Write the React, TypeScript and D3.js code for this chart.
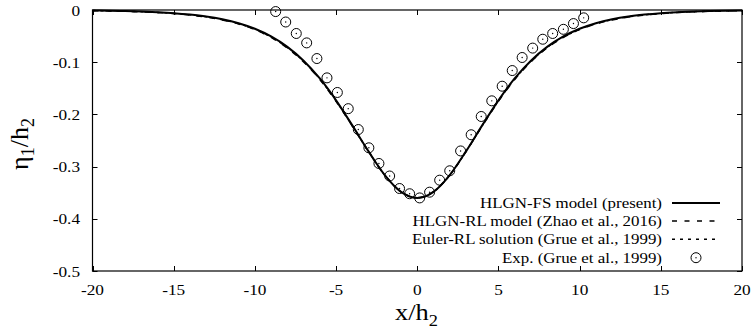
import React, { useRef, useEffect } from "react";
import * as d3 from "d3";

// curve abscissae (x/h2)
const curveX = [
  -20, -19, -18, -17, -16, -15, -14, -13, -12, -11, -10, -9, -8, -7, -6, -5, -4, -3, -2, -1, 0,
  1, 2, 3, 4, 5, 6, 7, 8, 9, 10, 11, 12, 13, 14, 15, 16, 17, 18, 19, 20,
];

// HLGN-FS model (present)
const fsY = [
  -0.001, -0.0014, -0.0021, -0.003, -0.0043, -0.0061, -0.0088, -0.0125, -0.0179, -0.0254, -0.036,
  -0.0507, -0.0706, -0.0971, -0.1312, -0.173, -0.221, -0.2708, -0.3163, -0.3484, -0.36,
  -0.3484, -0.3163, -0.2708, -0.221, -0.173, -0.1312, -0.0971, -0.0706, -0.0507, -0.036,
  -0.0254, -0.0179, -0.0125, -0.0088, -0.0061, -0.0043, -0.003, -0.0021, -0.0014, -0.001,
];

// HLGN-RL model (Zhao et al., 2016)
const rlY = [
  -0.0012, -0.0017, -0.0024, -0.0034, -0.0048, -0.0068, -0.0096, -0.0135, -0.0191, -0.0268, -0.0376,
  -0.0526, -0.0728, -0.0993, -0.1333, -0.1748, -0.2222, -0.2714, -0.3163, -0.348, -0.3595,
  -0.348, -0.3163, -0.2714, -0.2222, -0.1748, -0.1333, -0.0993, -0.0728, -0.0526, -0.0376,
  -0.0268, -0.0191, -0.0135, -0.0096, -0.0068, -0.0048, -0.0034, -0.0024, -0.0017, -0.0012,
];

// Euler-RL solution (Grue et al., 1999)
const eulerY = [
  -0.0011, -0.0016, -0.0023, -0.0032, -0.0046, -0.0065, -0.0092, -0.0131, -0.0186, -0.0262, -0.0369,
  -0.0518, -0.0718, -0.0983, -0.1323, -0.174, -0.2216, -0.2712, -0.3164, -0.3483, -0.36,
  -0.3483, -0.3164, -0.2712, -0.2216, -0.174, -0.1323, -0.0983, -0.0718, -0.0518, -0.0369,
  -0.0262, -0.0186, -0.0131, -0.0092, -0.0065, -0.0046, -0.0032, -0.0023, -0.0016, -0.0011,
];

// Exp. (Grue et al., 1999)
const expX = [
  -8.72, -8.1, -7.45, -6.81, -6.18, -5.56, -4.92, -4.25, -3.63, -2.98, -2.36, -1.7, -1.09, -0.47,
  0.15, 0.76, 1.38, 2.0, 2.67, 3.32, 3.94, 4.59, 5.23, 5.85, 6.46, 7.11, 7.73, 8.34, 9.0, 9.62, 10.25,
];
const expY = [
  -0.003, -0.023, -0.045, -0.063, -0.093, -0.13, -0.158, -0.189, -0.229, -0.264, -0.294, -0.318,
  -0.342, -0.352, -0.36, -0.349, -0.326, -0.308, -0.27, -0.239, -0.204, -0.174, -0.146, -0.116,
  -0.091, -0.073, -0.056, -0.045, -0.037, -0.026, -0.015,
];

const xTicks = [-20, -15, -10, -5, 0, 5, 10, 15, 20];
const yTicks = [0, -0.1, -0.2, -0.3, -0.4, -0.5];
const yTickLabels = ["0", "-0.1", "-0.2", "-0.3", "-0.4", "-0.5"];

const legendLabels = [
  "HLGN-FS model (present)",
  "HLGN-RL model (Zhao et al., 2016)",
  "Euler-RL solution (Grue et al., 1999)",
  "Exp. (Grue et al., 1999)",
];

const W = 754;
const H = 335;
const FONT = "'Liberation Serif', 'DejaVu Serif', serif";
const SX = 1.15; // the source image's text is slightly stretched sideways

export default function App() {
  const svgRef = useRef<SVGSVGElement>(null);

  useEffect(() => {
    const svg = d3.select(svgRef.current);
    svg.selectAll("*").remove();

    const left = 92.5;
    const right = 742;
    const top = 10;
    const bottom = 271;

    const x = d3.scaleLinear().domain([-20, 20]).range([left, right]);
    const y = d3.scaleLinear().domain([-0.5, 0]).range([bottom, top]);

    svg.append("rect").attr("width", W).attr("height", H).attr("fill", "#fff");

    const label = (px: number, py: number, txt: string, size: number, anchor: string) =>
      svg
        .append("text")
        .attr("transform", `translate(${px},${py}) scale(${SX},1)`)
        .attr("text-anchor", anchor)
        .attr("font-family", FONT)
        .attr("font-size", size)
        .text(txt);

    const tickLen = 5;
    const axes = svg.append("g").attr("stroke", "#000").attr("stroke-width", 1);

    // ticks, mirrored on all sides
    xTicks.forEach((t) => {
      const px = Math.round(x(t)) + 0.5;
      axes.append("line").attr("x1", px).attr("x2", px).attr("y1", bottom).attr("y2", bottom - tickLen);
      axes.append("line").attr("x1", px).attr("x2", px).attr("y1", top).attr("y2", top + tickLen);
      label(x(t), 295, String(t), 15, "middle");
    });
    yTicks.forEach((t, i) => {
      const py = Math.round(y(t)) + 0.5;
      axes.append("line").attr("x1", left).attr("x2", left + tickLen).attr("y1", py).attr("y2", py);
      axes.append("line").attr("x1", right).attr("x2", right - tickLen).attr("y1", py).attr("y2", py);
      label(80, y(t) + 5.5, yTickLabels[i], 15, "end");
    });

    // curves
    const line = (ys: number[]) =>
      d3
        .line<number>()
        .x((d) => x(d))
        .y((_, i) => y(ys[i]))
        .curve(d3.curveMonotoneX)(curveX);

    svg
      .append("path")
      .attr("d", line(eulerY))
      .attr("fill", "none")
      .attr("stroke", "#000")
      .attr("stroke-width", 1.5)
      .attr("stroke-dasharray", "3,5");

    svg
      .append("path")
      .attr("d", line(rlY))
      .attr("fill", "none")
      .attr("stroke", "#000")
      .attr("stroke-width", 1.5)
      .attr("stroke-dasharray", "6,7");

    svg
      .append("path")
      .attr("d", line(fsY))
      .attr("fill", "none")
      .attr("stroke", "#000")
      .attr("stroke-width", 2);

    // experimental points
    const pts = svg.append("g");
    expX.forEach((xv, i) => {
      pts
        .append("circle")
        .attr("cx", x(xv))
        .attr("cy", y(expY[i]))
        .attr("r", 5)
        .attr("fill", "none")
        .attr("stroke", "#000")
        .attr("stroke-width", 1);
      pts
        .append("circle")
        .attr("cx", x(xv))
        .attr("cy", y(expY[i]))
        .attr("r", 0.7)
        .attr("fill", "#000");
    });

    // frame
    svg
      .append("rect")
      .attr("x", left)
      .attr("y", top)
      .attr("width", right - left)
      .attr("height", bottom - top)
      .attr("fill", "none")
      .attr("stroke", "#000")
      .attr("stroke-width", 1.2);

    // legend
    const legY = [203, 221, 239.3, 257.7];
    legendLabels.forEach((lab, i) => {
      label(662, legY[i] + 5, lab, 14.7, "end");
      if (i < 3) {
        svg
          .append("line")
          .attr("x1", 672)
          .attr("x2", 720)
          .attr("y1", legY[i])
          .attr("y2", legY[i])
          .attr("stroke", "#000")
          .attr("stroke-width", i === 0 ? 2 : 1.5)
          .attr("stroke-dasharray", i === 0 ? null : i === 1 ? "5,7.5" : "3,5");
      } else {
        svg.append("circle").attr("cx", 696).attr("cy", legY[i]).attr("r", 5).attr("fill", "none").attr("stroke", "#000");
        svg.append("circle").attr("cx", 696).attr("cy", legY[i]).attr("r", 0.7).attr("fill", "#000");
      }
    });

    // axis titles
    const xl = svg
      .append("text")
      .attr("transform", `translate(416.5,320) scale(${SX},1)`)
      .attr("text-anchor", "middle")
      .attr("font-family", FONT)
      .attr("font-size", 23);
    xl.append("tspan").text("x/h");
    xl.append("tspan").attr("font-size", 16).attr("dy", 6).text("2");

    const yl = svg
      .append("text")
      .attr("transform", `translate(28,144) rotate(-90)`)
      .attr("text-anchor", "middle")
      .attr("font-family", FONT)
      .attr("font-size", 26);
    yl.append("tspan").text("η");
    yl.append("tspan").attr("font-size", 18).attr("dy", 6).text("1");
    yl.append("tspan").attr("dy", -6).text("/h");
    yl.append("tspan").attr("font-size", 18).attr("dy", 6).text("2");
  }, []);

  return (
    <svg
      ref={svgRef}
      width={W}
      height={H}
      style={{ position: "absolute", left: 0, top: 0, display: "block" }}
    />
  );
}
